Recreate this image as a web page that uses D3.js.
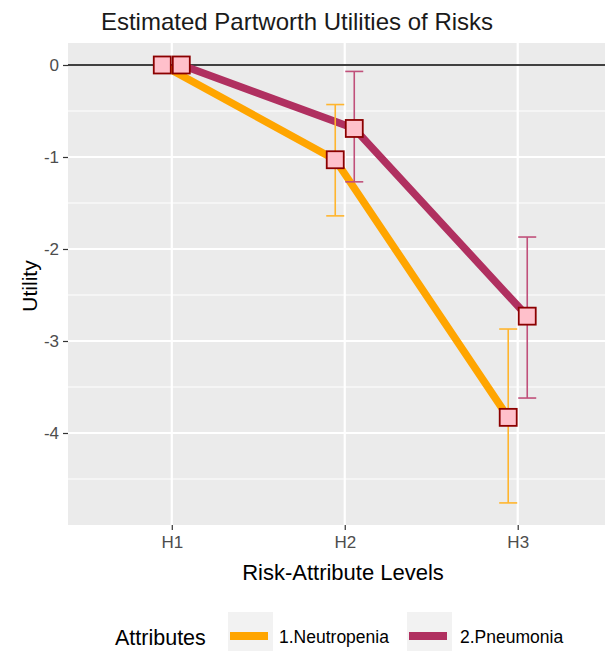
<!DOCTYPE html>
<html><head><meta charset="utf-8">
<script src="https://cdn.jsdelivr.net/npm/d3@7"></script>
<style>body{margin:0;background:#fff}svg{display:block;font-family:"Liberation Sans",Arial,sans-serif}</style>
</head><body><svg id="c" width="605" height="651"></svg>
<script>
const levels = ["H1","H2","H3"];
const attributes = ["1.Neutropenia","2.Pneumonia"];
const neutropenia = [0, -1.03, -3.83];
const neutLow = [0, -1.64, -4.76];
const neutHigh = [0, -0.43, -2.87];
const pneumonia = [0, -0.69, -2.73];
const pneuLow = [0, -1.27, -3.62];
const pneuHigh = [0, -0.07, -1.87];
const yTicks = [0, -1, -2, -3, -4];
const yMinor = [-0.5, -1.5, -2.5, -3.5, -4.5];

const colors = ["#FFA500", "#B03060"];
const errColors = ["#FFB52E", "#C0507A"];
const series = [
  {name: attributes[0], vals: neutropenia, lo: neutLow, hi: neutHigh, off: -0.055},
  {name: attributes[1], vals: pneumonia, lo: pneuLow, hi: pneuHigh, off: 0.055}
];

const svg = d3.select("#c");
const L = 68, R = 621.5, T = 43, B = 525;
const x = d3.scaleLinear().domain([0.4, 3.6]).range([L, R]);
const y = d3.scaleLinear().domain([-5.0, 0.239]).range([B, T]);
const xi = l => levels.indexOf(l) + 1;
const FF = "Liberation Sans, Arial, sans-serif";

// panel
svg.append("rect").attr("x", L).attr("y", T).attr("width", R - L).attr("height", B - T).attr("fill", "#EBEBEB");
const g = svg.append("g");
yMinor.forEach(v => g.append("line").attr("x1", L).attr("x2", R).attr("y1", y(v)).attr("y2", y(v)).attr("stroke", "#fff").attr("stroke-width", 1.1));
yTicks.forEach(v => g.append("line").attr("x1", L).attr("x2", R).attr("y1", y(v)).attr("y2", y(v)).attr("stroke", "#fff").attr("stroke-width", 2.2));
levels.forEach(l => g.append("line").attr("x1", x(xi(l))).attr("x2", x(xi(l))).attr("y1", T).attr("y2", B).attr("stroke", "#fff").attr("stroke-width", 2.2));

// zero line
g.append("line").attr("x1", L).attr("x2", R).attr("y1", y(0)).attr("y2", y(0)).attr("stroke", "#000").attr("stroke-width", 1.6);

// axes
const yAxis = d3.axisLeft(y).tickValues(yTicks).tickSize(5).tickPadding(4).tickFormat(d => String(d));
const ya = svg.append("g").attr("transform", `translate(${L},0)`).call(yAxis);
ya.select(".domain").remove();
ya.selectAll(".tick line").attr("stroke", "#333").attr("stroke-width", 1.2);
ya.selectAll(".tick text").attr("fill", "#4D4D4D").style("font-size", "17px").style("font-family", FF);

const xAxis = d3.axisBottom(x).tickValues(levels.map(xi)).tickSize(5).tickPadding(6).tickFormat(d => levels[d - 1]);
const xa = svg.append("g").attr("transform", `translate(0,${B})`).call(xAxis);
xa.select(".domain").remove();
xa.selectAll(".tick line").attr("stroke", "#333").attr("stroke-width", 1.2);
xa.selectAll(".tick text").attr("fill", "#4D4D4D").style("font-size", "17px").style("font-family", FF);

// lines
const line = d3.line().x(d => x(d[0])).y(d => y(d[1]));
series.forEach((s, k) => {
  g.append("path").datum(s.vals.map((v, i) => [i + 1 + s.off, v]))
    .attr("d", line).attr("fill", "none").attr("stroke", colors[k]).attr("stroke-width", 7.5).attr("stroke-linejoin", "round");
});
// error bars
series.forEach((s, k) => {
  s.vals.forEach((v, i) => {
    if (s.lo[i] === s.hi[i]) return;
    const cx = x(i + 1 + s.off), w = 9;
    const eb = g.append("g").attr("stroke", errColors[k]).attr("stroke-width", 1.6).attr("fill", "none");
    eb.append("line").attr("x1", cx).attr("x2", cx).attr("y1", y(s.lo[i])).attr("y2", y(s.hi[i]));
    eb.append("line").attr("x1", cx - w).attr("x2", cx + w).attr("y1", y(s.lo[i])).attr("y2", y(s.lo[i]));
    eb.append("line").attr("x1", cx - w).attr("x2", cx + w).attr("y1", y(s.hi[i])).attr("y2", y(s.hi[i]));
  });
});
// points
series.forEach((s, k) => {
  s.vals.forEach((v, i) => {
    const cx = x(i + 1 + s.off), cy = y(v), h = 8.5;
    g.append("rect").attr("x", cx - h).attr("y", cy - h).attr("width", 2 * h).attr("height", 2 * h)
      .attr("fill", "#FFC0CB").attr("stroke", "#8B0000").attr("stroke-width", 1.8);
  });
});

// titles
svg.append("text").attr("x", 297).attr("y", 30).attr("text-anchor", "middle").attr("fill", "#1A1A1A")
  .style("font-size", "24px").text("Estimated Partworth Utilities of Risks");
svg.append("text").attr("x", 343).attr("y", 580).attr("text-anchor", "middle").attr("fill", "#000")
  .style("font-size", "22px").text("Risk-Attribute Levels");
svg.append("text").attr("transform", `translate(37,286) rotate(-90)`).attr("text-anchor", "middle").attr("fill", "#000")
  .style("font-size", "21px").text("Utility");

// legend
svg.append("text").attr("x", 115).attr("y", 645).attr("fill", "#000").style("font-size", "21.5px").text("Attributes");
const keyX = [228, 407], labX = [279, 460];
attributes.forEach((a, k) => {
  svg.append("rect").attr("x", keyX[k]).attr("y", 612).attr("width", 45).attr("height", 46).attr("fill", "#F2F2F2");
  svg.append("line").attr("x1", keyX[k] + 2).attr("x2", keyX[k] + 40).attr("y1", 636).attr("y2", 636)
    .attr("stroke", colors[k]).attr("stroke-width", 8);
  svg.append("text").attr("x", labX[k]).attr("y", 643).attr("fill", "#000").style("font-size", "17.5px").text(a);
});
</script></body></html>
